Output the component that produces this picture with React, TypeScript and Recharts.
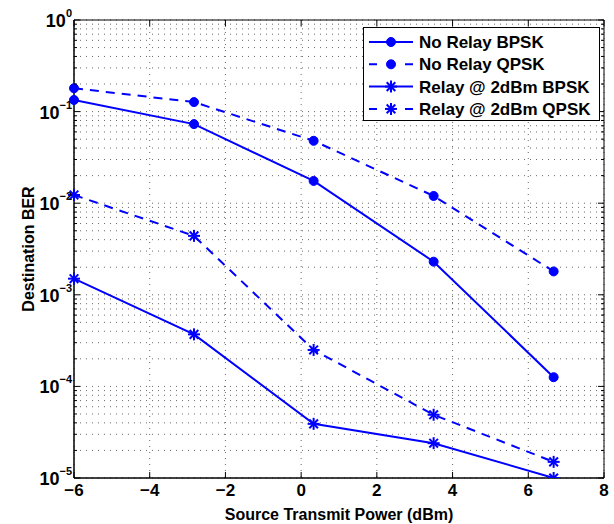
import React from 'react'
import {
	LineChart,
	Line,
	XAxis,
	YAxis,
	CartesianGrid,
	ReferenceLine,
} from 'recharts'

// source transmit power (dBm)
const powers = [-6, -2.83, 0.33, 3.5, 6.67]

const noRelayBpsk = [0.134, 0.073, 0.0175, 0.0023, 1.26e-4]
const noRelayQpsk = [0.18, 0.127, 0.048, 0.012, 0.0018]
const relayBpsk = [0.0015, 3.7e-4, 3.9e-5, 2.4e-5, 1.0e-5]
const relayQpsk = [0.0123, 0.0044, 2.5e-4, 4.9e-5, 1.5e-5]

const xTicks = [-6, -4, -2, 0, 2, 4, 6, 8]
const decades = [-5, -4, -3, -2, -1, 0]

const seriesNames = [
	'No Relay BPSK',
	'No Relay QPSK',
	'Relay @ 2dBm BPSK',
	'Relay @ 2dBm QPSK',
]

// all minor log ticks (1..9 x 10^e) for the dotted grid
const yTicks: number[] = []
decades.slice(0, -1).forEach((e) => {
	for (let m = 1; m <= 9; m++) yTicks.push(+(m * Math.pow(10, e)).toPrecision(3))
})
yTicks.push(1)

const data = powers.map((p, i) => ({
	x: p,
	nrb: noRelayBpsk[i],
	nrq: noRelayQpsk[i],
	rb: relayBpsk[i],
	rq: relayQpsk[i],
}))

const W = 614
const H = 524
const XH = 46 // x axis band height
const YW = 74 // y axis band width
const M = { top: 20, right: 10, bottom: 0, left: 0 }
const LEFT = YW
const RIGHT = W - M.right
const TOP = M.top
const BOTTOM = H - XH

const BLUE = '#0000ff'
const FONT = '"Liberation Sans", Arial, Helvetica, sans-serif'

const isDecade = (v: number) => {
	const l = Math.log10(v)
	return Math.abs(l - Math.round(l)) < 1e-6
}

const Circle = (props: any) => {
	const { cx, cy } = props
	if (cx == null || cy == null) return null
	return <circle cx={cx} cy={cy} r={4.5} fill={BLUE} stroke={BLUE} />
}

const Star = (props: any) => {
	const { cx, cy } = props
	if (cx == null || cy == null) return null
	const s = 6
	const d = s * 0.72
	return (
		<g stroke={BLUE} strokeWidth={2}>
			<line x1={cx} y1={cy - s} x2={cx} y2={cy + s} />
			<line x1={cx - s} y1={cy} x2={cx + s} y2={cy} />
			<line x1={cx - d} y1={cy - d} x2={cx + d} y2={cy + d} />
			<line x1={cx - d} y1={cy + d} x2={cx + d} y2={cy - d} />
		</g>
	)
}

const YTick = (props: any) => {
	const { payload } = props
	const v = payload.value
	const y = payload.coordinate
	const major = isDecade(v)
	const len = major ? 6 : 3
	const e = Math.round(Math.log10(v))
	return (
		<g>
			<line x1={LEFT} y1={y} x2={LEFT + len} y2={y} stroke='#000' />
			<line x1={RIGHT - len} y1={y} x2={RIGHT} y2={y} stroke='#000' />
			{major && (
				<text
					x={LEFT - 2}
					y={y}
					dy={7}
					textAnchor='end'
					fontFamily={FONT}
					fontWeight='bold'
					fontSize={18}
					fill='#000'
				>
					10
					<tspan dy={-10} fontSize={11}>
						{e === 0 ? '0' : '\u2212' + Math.abs(e)}
					</tspan>
				</text>
			)}
		</g>
	)
}

const XTick = (props: any) => {
	const { payload } = props
	const x = payload.coordinate
	const v = payload.value
	return (
		<g>
			<line x1={x} y1={BOTTOM} x2={x} y2={BOTTOM - 6} stroke='#000' />
			<line x1={x} y1={TOP} x2={x} y2={TOP + 6} stroke='#000' />
			<text
				x={x}
				y={BOTTOM + 6}
				dy='0.71em'
				textAnchor='middle'
				fontFamily={FONT}
				fontWeight='bold'
				fontSize={17}
				fill='#000'
			>
				{v < 0 ? '\u2212' + Math.abs(v) : String(v)}
			</text>
		</g>
	)
}

const LegendBox = () => {
	const rows = [
		{ dash: false, Marker: Circle },
		{ dash: true, Marker: Circle },
		{ dash: false, Marker: Star },
		{ dash: true, Marker: Star },
	]
	return (
		<svg width={237} height={94} style={{ display: 'block' }}>
			<rect x={0.5} y={0.5} width={236} height={93} fill='#fff' stroke='#000' />
			{rows.map((r, i) => {
				const y = 15 + i * 22.3
				return (
					<g key={i}>
						<line
							x1={6}
							y1={y}
							x2={50}
							y2={y}
							stroke={BLUE}
							strokeWidth={2}
							strokeDasharray={r.dash ? '8 10' : undefined}
						/>
						<r.Marker cx={28} cy={y} />
						<text
							x={56}
							y={y}
							dy={6}
							fontFamily={FONT}
							fontWeight='bold'
							fontSize={17}
							fill='#000'
						>
							{seriesNames[i]}
						</text>
					</g>
				)
			})}
		</svg>
	)
}

export default function App() {
	return (
		<div style={{ position: 'absolute', left: 0, top: 0, width: W, height: H, background: '#fff' }}>
			<LineChart width={W} height={H} data={data} margin={M}>
				<CartesianGrid
					stroke='#444'
					strokeWidth={0.8}
					strokeDasharray='1 5'
				/>
				<XAxis
					dataKey='x'
					type='number'
					domain={[-6, 8]}
					ticks={xTicks}
					tick={<XTick />}
					tickLine={false}
					axisLine={{ stroke: '#000', strokeWidth: 1.5 }}
					height={XH}
					interval={0}
					label={{
						value: 'Source Transmit Power (dBm)',
						position: 'insideBottom',
						offset: 4,
						style: { fontFamily: FONT, fontWeight: 'bold', fontSize: 16, fill: '#000' },
					}}
				/>
				<YAxis
					scale='log'
					domain={[1e-5, 1]}
					allowDataOverflow
					ticks={yTicks}
					tick={<YTick />}
					tickLine={false}
					interval={0}
					width={YW}
					axisLine={{ stroke: '#000', strokeWidth: 1.5 }}
					label={{
						value: 'Destination BER',
						angle: -90,
						position: 'insideLeft',
						offset: 28,
						style: {
							textAnchor: 'middle',
							fontFamily: FONT,
							fontWeight: 'bold',
							fontSize: 16,
							fill: '#000',
						},
					}}
				/>
				<ReferenceLine y={1} stroke='#000' strokeWidth={1} />
				<ReferenceLine x={8} stroke='#000' strokeWidth={1} />
				<Line
					dataKey='nrb'
					name={seriesNames[0]}
					stroke={BLUE}
					strokeWidth={2}
					dot={<Circle />}
					isAnimationActive={false}
				/>
				<Line
					dataKey='nrq'
					name={seriesNames[1]}
					stroke={BLUE}
					strokeWidth={2}
					strokeDasharray='9 7'
					dot={<Circle />}
					isAnimationActive={false}
				/>
				<Line
					dataKey='rb'
					name={seriesNames[2]}
					stroke={BLUE}
					strokeWidth={2}
					dot={<Star />}
					isAnimationActive={false}
				/>
				<Line
					dataKey='rq'
					name={seriesNames[3]}
					stroke={BLUE}
					strokeWidth={2}
					strokeDasharray='9 7'
					dot={<Star />}
					isAnimationActive={false}
				/>
			</LineChart>
			<div style={{ position: 'absolute', left: 363, top: 27 }}>
				<LegendBox />
			</div>
		</div>
	)
}
